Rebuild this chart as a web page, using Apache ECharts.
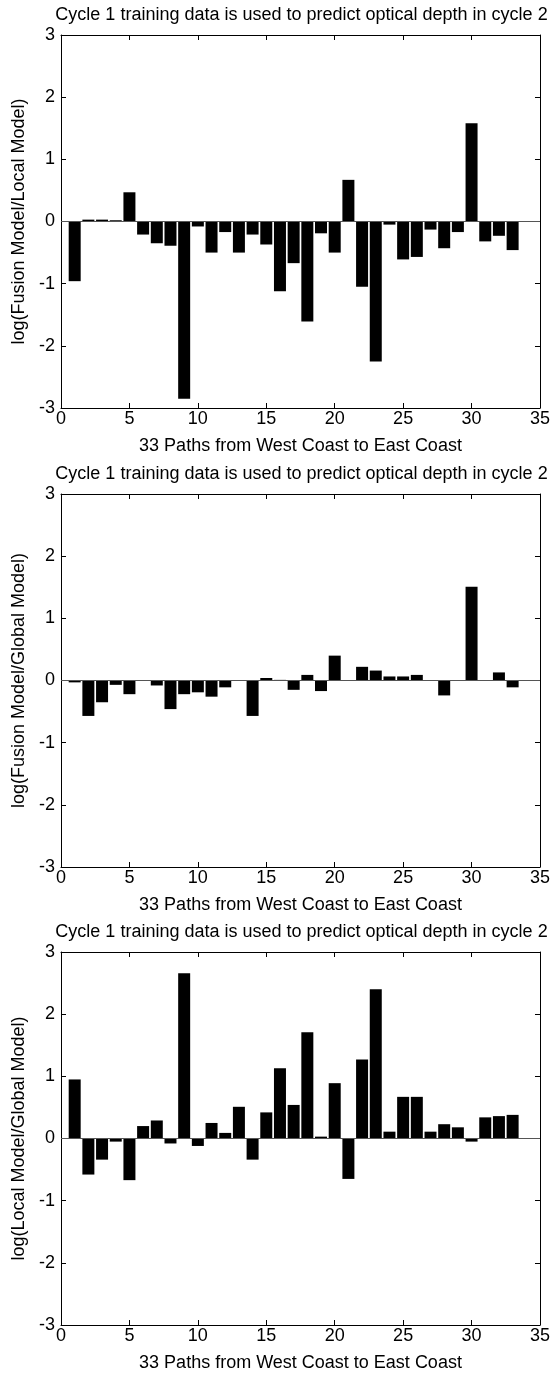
<!DOCTYPE html>
<html>
<head>
<meta charset="utf-8">
<script src="https://cdn.jsdelivr.net/npm/echarts@6/dist/echarts.min.js"></script>
<style>
html,body{margin:0;padding:0;background:#fff;}
#chart{width:553px;height:1375px;}
</style>
</head>
<body>
<div id="chart"></div>
<script>
// 33 paths (x positions)
const paths = [1,2,3,4,5,6,7,8,9,10,11,12,13,14,15,16,17,18,19,20,21,22,23,24,25,26,27,28,29,30,31,32,33];

// log(Fusion Model/Local Model)
const fusionLocal = [-0.96,0.03,0.03,0.02,0.47,-0.21,-0.35,-0.39,-2.85,-0.08,-0.50,-0.17,-0.50,-0.21,-0.37,-1.12,-0.67,-1.61,-0.19,-0.50,0.67,-1.05,-2.25,-0.05,-0.61,-0.57,-0.13,-0.43,-0.17,1.58,-0.32,-0.23,-0.46];

// log(Fusion Model/Global Model)
const fusionGlobal = [-0.03,-0.57,-0.35,-0.07,-0.22,0.00,-0.08,-0.46,-0.22,-0.19,-0.26,-0.11,0.00,-0.57,0.04,0.01,-0.15,0.09,-0.17,0.40,0.00,0.22,0.16,0.065,0.065,0.09,0.00,-0.24,0.00,1.51,0.00,0.13,-0.11];

// log(Local Model/Global Model)
const localGlobal = [0.95,-0.58,-0.34,-0.05,-0.67,0.20,0.29,-0.08,2.66,-0.12,0.25,0.09,0.51,-0.34,0.42,1.13,0.54,1.71,0.03,0.89,-0.65,1.27,2.40,0.11,0.67,0.67,0.11,0.23,0.18,-0.05,0.34,0.36,0.38];

const titleText = 'Cycle 1 training data is used to predict optical depth in cycle 2';
const xName = '33 Paths from West Coast to East Coast';
const yNames = ['log(Fusion Model/Local Model)', 'log(Fusion Model/Global Model)', 'log(Local Model/Global Model)'];
const seriesSets = [fusionLocal, fusionGlobal, localGlobal];

const FONT = '"Liberation Sans", Arial, Helvetica, sans-serif';
const FS = 18;
const tops = [35, 494, 952];
const H = 373;
const LEFT = 61, RIGHT = 11;

const chart = echarts.init(document.getElementById('chart'), null, {renderer: 'canvas'});

const grids = [], xAxes = [], yAxes = [], series = [], graphics = [];
tops.forEach((t, i) => {
  grids.push({left: LEFT, right: RIGHT, top: t, height: H, containLabel: false});
  const tick = {show: true, inside: true, length: 5, lineStyle: {color: '#000', width: 1}};
  const line = {show: true, onZero: false, lineStyle: {color: '#000', width: 1}};
  xAxes.push({
    type: 'value', gridIndex: i, min: 0, max: 35, interval: 5, position: 'bottom',
    axisLine: line, axisTick: tick, splitLine: {show: false},
    axisLabel: {color: '#000', fontFamily: FONT, fontSize: FS, margin: 2},
    name: xName, nameLocation: 'middle', nameGap: 29,
    nameTextStyle: {color: '#000', fontFamily: FONT, fontSize: FS}
  });
  xAxes.push({
    type: 'value', gridIndex: i, min: 0, max: 35, interval: 5, position: 'top',
    axisLine: line, axisTick: tick, splitLine: {show: false}, axisLabel: {show: false}
  });
  yAxes.push({
    type: 'value', gridIndex: i, min: -3, max: 3, interval: 1, position: 'left',
    axisLine: line, axisTick: tick, splitLine: {show: false},
    axisLabel: {color: '#000', fontFamily: FONT, fontSize: FS, margin: 6},
    name: yNames[i], nameLocation: 'middle', nameGap: 30, nameRotate: 90,
    nameTextStyle: {color: '#000', fontFamily: FONT, fontSize: FS}
  });
  yAxes.push({
    type: 'value', gridIndex: i, min: -3, max: 3, interval: 1, position: 'right',
    axisLine: line, axisTick: tick, splitLine: {show: false}, axisLabel: {show: false}
  });
  series.push({
    type: 'bar', xAxisIndex: 2 * i, yAxisIndex: 2 * i,
    data: paths.map((p, j) => [p, seriesSets[i][j]]),
    barWidth: 12,
    itemStyle: {color: '#000'},
    silent: true,
    markLine: {
      silent: true, symbol: 'none', label: {show: false},
      lineStyle: {color: '#555', width: 1, type: 'solid'},
      data: [{yAxis: 0}]
    }
  });
  graphics.push({
    type: 'text', x: LEFT + (553 - LEFT - RIGHT) / 2, y: t - 20,
    style: {text: titleText, align: 'center', verticalAlign: 'middle',
            font: FS + 'px ' + FONT, fill: '#000'}
  });
});

chart.setOption({
  animation: false,
  backgroundColor: '#fff',
  grid: grids,
  xAxis: xAxes,
  yAxis: yAxes,
  series: series,
  graphic: graphics
});
</script>
</body>
</html>
